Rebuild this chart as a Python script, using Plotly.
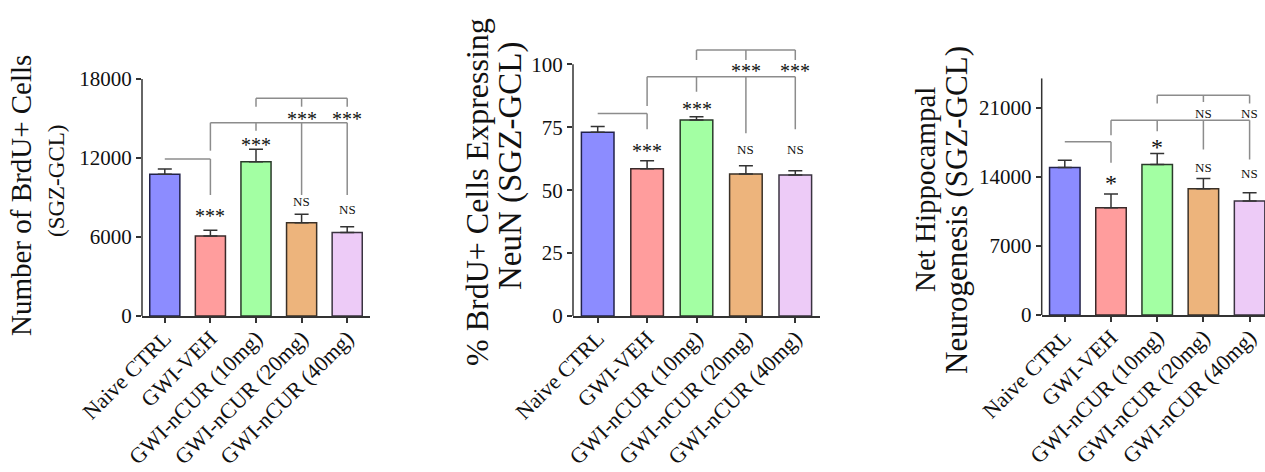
import plotly.graph_objects as go

# ---------------- data ----------------
categories = ["Naive CTRL", "GWI-VEH", "GWI-nCUR (10mg)", "GWI-nCUR (20mg)", "GWI-nCUR (40mg)"]
bar_colors = ["#8C8CFF", "#FF9D9D", "#A3FFA3", "#EDB47C", "#EDCBF7"]
bar_edges = ["#22224A", "#3A2A2A", "#2A3A2A", "#3A3026", "#3A3340"]

brdu_mean = [10760, 6080, 11720, 7090, 6350]
brdu_sem = [400, 430, 940, 630, 430]
brdu_ticks = [0, 6000, 12000, 18000]

neun_mean = [73.0, 58.5, 77.9, 56.4, 56.0]
neun_sem = [2.3, 3.2, 1.3, 3.3, 1.7]
neun_ticks = [0, 25, 50, 75, 100]

net_mean = [14960, 10870, 15270, 12790, 11550]
net_sem = [740, 1390, 1110, 1050, 840]
net_ticks = [0, 7000, 14000, 21000]

# significance brackets: (from category, to category, bar height, [(leg category, leg bottom)])
brdu_brackets = [
    (0, 1, 11924, [(1, 9190)]),
    (1, 4, 14681, [(1, 12555), (2, 14071), (3, 9190), (4, 9190)]),
    (2, 4, 16534, [(2, 15896), (3, 15896), (4, 15896)]),
]
brdu_marks = [(1, 7899, "***"), (2, 13291, "***"), (3, 8681, "NS"), (4, 8104, "NS"),
              (3, 15266, "***"), (4, 15266, "***")]

neun_brackets = [
    (0, 1, 80.5, [(1, 74.2)]),
    (1, 4, 95.1, [(1, 83.4), (2, 89.1), (3, 72.6), (4, 74.2)]),
    (2, 4, 105.7, [(2, 101.7), (3, 101.7), (4, 101.7)]),
]
neun_marks = [(1, 67.3, "***"), (2, 83.8, "***"), (3, 66.3, "NS"), (4, 66.3, "NS"),
              (3, 99.0, "***"), (4, 99.0, "***")]

net_brackets = [
    (0, 1, 17555, [(1, 15428)]),
    (1, 4, 19754, [(1, 18234), (2, 18639), (3, 16782), (4, 15769)]),
    (2, 4, 22286, [(2, 21442), (3, 21608), (4, 21442)]),
]
net_marks = [(1, 13848, "*"), (2, 17555, "*"), (3, 14962, "NS"), (4, 14354, "NS"),
             (3, 20431, "NS"), (4, 20431, "NS")]

# ---------------- layout helpers ----------------
W, H = 1265, 472
FONT = "Liberation Serif"
AX = "#333333"
BR = "#8C8C8C"


def px_x(p):
    return p / W


def px_y(p):
    return 1 - p / H


panels = [
    dict(mean=brdu_mean, sem=brdu_sem, ticks=brdu_ticks, yrange=[0, 18000], ytop=18000,
         xdom=[px_x(142), px_x(370)], ydom=[px_y(316), px_y(79)], xrange=[-0.5, 4.5],
         brackets=brdu_brackets, marks=brdu_marks),
    dict(mean=neun_mean, sem=neun_sem, ticks=neun_ticks, yrange=[0, 108], ytop=100,
         xdom=[px_x(573), px_x(820)], ydom=[px_y(316), px_y(316 - 108 * 2.517)], xrange=[-0.5, 4.5],
         brackets=neun_brackets, marks=neun_marks),
    dict(mean=net_mean, sem=net_sem, ticks=net_ticks, yrange=[0, 24000], ytop=24000,
         xdom=[px_x(1041.7), 1.0], ydom=[px_y(315), px_y(78.3)], xrange=[-0.5, -0.5 + (W - 1041.7) / 46.2],
         brackets=net_brackets, marks=net_marks),
]

fig = go.Figure()
shapes = []
annotations = []

for i, p in enumerate(panels, start=1):
    sfx = "" if i == 1 else str(i)
    xa, ya = "x" + sfx, "y" + sfx
    fig.add_trace(go.Bar(
        x=categories, y=p["mean"], xaxis=xa, yaxis=ya,
        marker=dict(color=bar_colors, line=dict(color=bar_edges, width=1.5)),
        error_y=dict(type="data", array=p["sem"], arrayminus=[0] * len(p["sem"]), symmetric=False,
                     color=AX, thickness=1.5, width=7),
        showlegend=False,
    ))
    fig.update_layout(**{
        "xaxis" + sfx: dict(domain=p["xdom"], anchor=ya, range=p["xrange"], type="category",
                            showline=True, linecolor=AX, linewidth=1.5, ticks="outside",
                            ticklen=5, tickcolor=AX, tickwidth=1.5, tickangle=-45,
                            ticklabelstandoff=-6,
                            tickfont=dict(family=FONT, size=22, color="#111"),
                            showgrid=False, zeroline=False, automargin=False),
        "yaxis" + sfx: dict(domain=p["ydom"], anchor=xa, range=p["yrange"], tickvals=p["ticks"],
                            tickformat="d",
                            showline=False, ticks="outside", ticklen=5, tickcolor=AX, tickwidth=1.5,
                            tickfont=dict(family=FONT, size=21, color="#111"),
                            showgrid=False, zeroline=False, automargin=False),
    })
    # y axis line (stops at top tick)
    shapes.append(dict(type="line", xref=xa + " domain", yref=ya, x0=0, x1=0, y0=0, y1=p["ytop"],
                       line=dict(color=AX, width=1.5), layer="above"))
    # brackets
    for (a, b, yb, legs) in p["brackets"]:
        shapes.append(dict(type="line", xref=xa, yref=ya, x0=a, x1=b, y0=yb, y1=yb,
                           line=dict(color=BR, width=1.5)))
        for (lx, ly) in legs:
            shapes.append(dict(type="line", xref=xa, yref=ya, x0=lx, x1=lx, y0=yb, y1=ly,
                               line=dict(color=BR, width=1.5)))
    for (mx, my, txt) in p["marks"]:
        if txt == "NS":
            size, shift = 13, 0
        elif txt == "*":
            size, shift = 24, -5
        else:
            size, shift = 20, -4
        annotations.append(dict(x=mx, y=my, xref=xa, yref=ya, text=txt, showarrow=False,
                                font=dict(family=FONT, size=size, color="#111"),
                                yshift=shift))

# y-axis titles (two lines each)
titles = [
    ("Number of BrdU+ Cells", 21, 196, 29), ("(SGZ-GCL)", 56, 181, 23),
    ("% BrdU+ Cells Expressing", 477, 192, 32), ("NeuN (SGZ-GCL)", 511, 166, 33),
    ("Net Hippocampal", 925, 190, 29), ("Neurogenesis (SGZ-GCL)", 957, 210, 31),
]
for (t, x, y, s) in titles:
    annotations.append(dict(x=px_x(x), y=px_y(y), xref="paper", yref="paper", text=t,
                            showarrow=False, textangle=-90, xanchor="center", yanchor="middle",
                            font=dict(family=FONT, size=s, color="#111")))

fig.update_layout(
    width=W, height=H, margin=dict(l=0, r=0, t=0, b=0, autoexpand=False),
    paper_bgcolor="white", plot_bgcolor="white",
    bargap=0.34, shapes=shapes, annotations=annotations,
    font=dict(family=FONT, color="#111"),
)

fig.write_html("out.html", config={"displayModeBar": False},
               post_script="document.body.style.margin='0';document.body.style.overflow='hidden';")
